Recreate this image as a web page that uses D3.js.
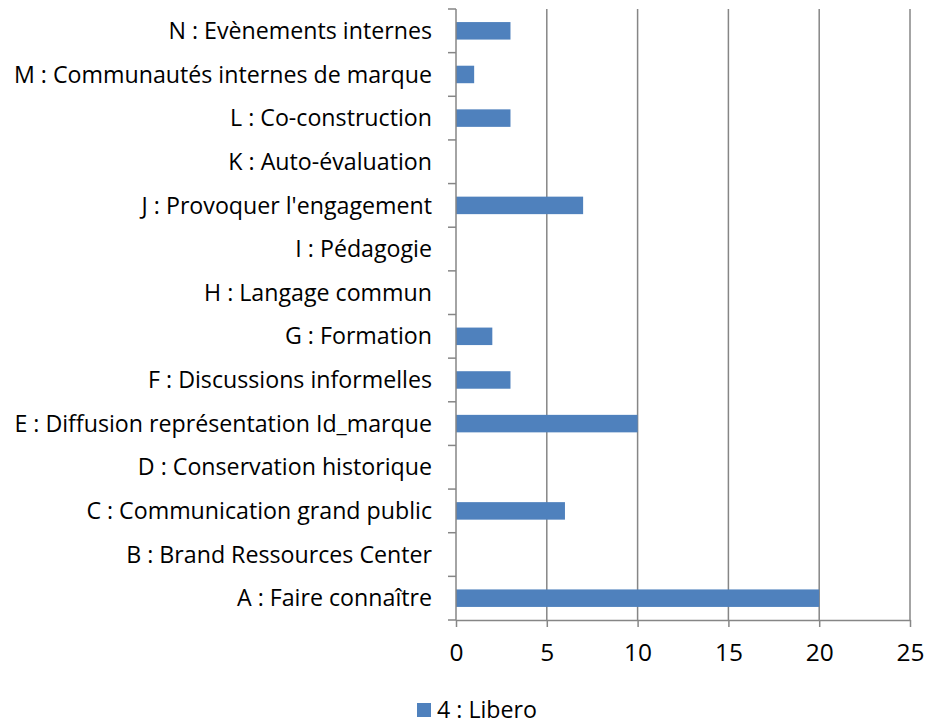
<!DOCTYPE html>
<html>
<head>
<meta charset="utf-8">
<script src="https://cdn.jsdelivr.net/npm/d3@7"></script>
<style>
  body { margin: 0; background: #fff; }
  svg text { font-family: "Open Sans", "Noto Sans", sans-serif; fill: #000; }
</style>
</head>
<body>
<svg id="chart" width="928" height="725"></svg>
<script>
// Categories, listed bottom to top
const categories = [
  "A : Faire connaître",
  "B : Brand Ressources Center",
  "C : Communication grand public",
  "D : Conservation historique",
  "E : Diffusion représentation Id_marque",
  "F : Discussions informelles",
  "G : Formation",
  "H : Langage commun",
  "I : Pédagogie",
  "J : Provoquer l'engagement",
  "K : Auto-évaluation",
  "L : Co-construction",
  "M : Communautés internes de marque",
  "N : Evènements internes"
];
const values = [20, 0, 6, 0, 10, 3, 2, 0, 0, 7, 0, 3, 1, 3];
const xTicks = [0, 5, 10, 15, 20, 25];
const seriesName = "4 : Libero";

const svg = d3.select("#chart");
const plotLeft = 456, plotRight = 910, plotTop = 9, plotBottom = 620;
const fontSize = 23.2;
const gridColor = "#868686";
const barColor = "#4F81BD";
const barHeight = 17.5;

const x = d3.scaleLinear().domain([0, 25]).range([plotLeft, plotRight]);
const band = d3.scaleBand().domain(categories.slice().reverse()).range([plotTop, plotBottom]);

// vertical gridlines
svg.append("g").selectAll("line").data(xTicks.filter(d => d > 0)).join("line")
  .attr("x1", d => x(d)).attr("x2", d => x(d))
  .attr("y1", plotTop).attr("y2", plotBottom)
  .attr("stroke", gridColor).attr("stroke-width", 1.5);

// bars
svg.append("g").selectAll("rect").data(categories.map((c, i) => ({ c, v: values[i] })))
  .join("rect")
  .attr("x", x(0))
  .attr("y", d => band(d.c) + (band.bandwidth() - barHeight) / 2)
  .attr("width", d => x(d.v) - x(0))
  .attr("height", barHeight)
  .attr("fill", barColor);

// x axis
const xAxis = svg.append("g").attr("transform", `translate(0,${plotBottom})`)
  .call(d3.axisBottom(x).tickValues(xTicks).tickSize(7).tickPadding(17).tickSizeOuter(0));
xAxis.select(".domain").attr("stroke", gridColor).attr("stroke-width", 1.5);
xAxis.selectAll(".tick line").attr("stroke", gridColor).attr("stroke-width", 1.5);
xAxis.selectAll(".tick text").attr("font-size", 24.5).attr("font-family", null);

// y axis line and category boundary ticks
svg.append("line").attr("x1", plotLeft).attr("x2", plotLeft).attr("y1", plotTop).attr("y2", plotBottom)
  .attr("stroke", gridColor).attr("stroke-width", 1.5);
const bounds = d3.range(categories.length + 1).map(i => plotTop + i * band.step());
svg.append("g").selectAll("line").data(bounds).join("line")
  .attr("x1", plotLeft - 8).attr("x2", plotLeft)
  .attr("y1", d => d).attr("y2", d => d)
  .attr("stroke", gridColor).attr("stroke-width", 1.5);

// category labels
svg.append("g").selectAll("text").data(categories).join("text")
  .attr("x", 432)
  .attr("y", d => band(d) + band.bandwidth() / 2)
  .attr("dy", "0.35em")
  .attr("text-anchor", "end")
  .attr("font-size", fontSize)
  .text(d => d);

// legend
const legend = svg.append("g");
legend.append("rect").attr("x", 417).attr("y", 703).attr("width", 14).attr("height", 14).attr("fill", barColor);
legend.append("text").attr("x", 437).attr("y", 718).attr("font-size", fontSize).text(seriesName);
</script>
</body>
</html>
